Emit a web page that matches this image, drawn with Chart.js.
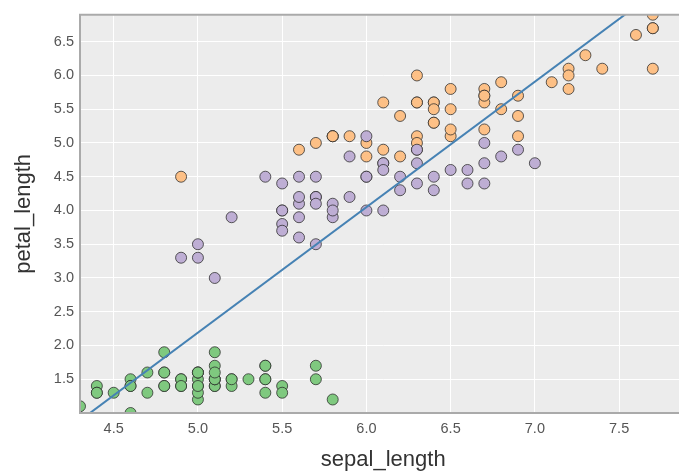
<!DOCTYPE html>
<html>
<head>
<meta charset="utf-8">
<script src="https://cdn.jsdelivr.net/npm/chart.js@4.4.0/dist/chart.umd.min.js"></script>
<style>
  html, body { margin: 0; padding: 0; background: #fff; overflow: hidden; }
  /* the plot runs past the right edge of the window, as in the original */
  #wrap { width: 693px; height: 472px; }
  #wrap canvas { display: block; }
</style>
</head>
<body>
<div id="wrap"><canvas id="ScatterChart"></canvas></div>
<script>
// iris: sepal_length vs petal_length, per species
const species = ['setosa', 'versicolor', 'virginica'];

const sepalSetosa = [5.1,4.9,4.7,4.6,5.0,5.4,4.6,5.0,4.4,4.9,5.4,4.8,4.8,4.3,5.8,5.7,5.4,5.1,5.7,5.1,
  5.4,5.1,4.6,5.1,4.8,5.0,5.0,5.2,5.2,4.7,4.8,5.4,5.2,5.5,4.9,5.0,5.5,4.9,4.4,5.1,
  5.0,4.5,4.4,5.0,5.1,4.8,5.1,4.6,5.3,5.0];
const petalSetosa = [1.4,1.4,1.3,1.5,1.4,1.7,1.4,1.5,1.4,1.5,1.5,1.6,1.4,1.1,1.2,1.5,1.3,1.4,1.7,1.5,
  1.7,1.5,1.0,1.7,1.9,1.6,1.6,1.5,1.4,1.6,1.6,1.5,1.5,1.4,1.5,1.2,1.3,1.4,1.3,1.5,
  1.3,1.3,1.3,1.6,1.9,1.4,1.6,1.4,1.5,1.4];

const sepalVersicolor = [7.0,6.4,6.9,5.5,6.5,5.7,6.3,4.9,6.6,5.2,5.0,5.9,6.0,6.1,5.6,6.7,5.6,5.8,6.2,5.6,
  5.9,6.1,6.3,6.1,6.4,6.6,6.8,6.7,6.0,5.7,5.5,5.5,5.8,6.0,5.4,6.0,6.7,6.3,5.6,5.5,
  5.5,6.1,5.8,5.0,5.6,5.7,5.7,6.2,5.1,5.7];
const petalVersicolor = [4.7,4.5,4.9,4.0,4.6,4.5,4.7,3.3,4.6,3.9,3.5,4.2,4.0,4.7,3.6,4.4,4.5,4.1,4.5,3.9,
  4.8,4.0,4.9,4.7,4.3,4.4,4.8,5.0,4.5,3.5,3.8,3.7,3.9,5.1,4.5,4.5,4.7,4.4,4.1,4.0,
  4.4,4.6,4.0,3.3,4.2,4.2,4.2,4.3,3.0,4.1];

const sepalVirginica = [6.3,5.8,7.1,6.3,6.5,7.6,4.9,7.3,6.7,7.2,6.5,6.4,6.8,5.7,5.8,6.4,6.5,7.7,7.7,6.0,
  6.9,5.6,7.7,6.3,6.7,7.2,6.2,6.1,6.4,7.2,7.4,7.9,6.4,6.3,6.1,7.7,6.3,6.4,6.0,6.9,
  6.7,6.9,5.8,6.8,6.7,6.7,6.3,6.5,6.2,5.9];
const petalVirginica = [6.0,5.1,5.9,5.6,5.8,6.6,4.5,6.3,5.8,6.1,5.1,5.3,5.5,5.0,5.1,5.3,5.5,6.7,6.9,5.0,
  5.7,4.9,6.7,4.9,5.7,6.0,4.8,4.9,5.6,5.8,6.1,6.4,5.6,5.1,5.6,6.1,5.6,5.5,4.8,5.4,
  5.6,5.1,5.1,5.9,5.7,5.2,5.0,5.2,5.4,5.1];

const xTicks = [4.5, 5.0, 5.5, 6.0, 6.5, 7.0, 7.5];
const yTicks = [1.5, 2.0, 2.5, 3.0, 3.5, 4.0, 4.5, 5.0, 5.5, 6.0, 6.5];

const colors = ['#7fc97f', '#beaed4', '#fdc086'];

function toPoints(xs, ys){
    return xs.map((x, i) => ({x: x, y: ys[i]}));
}

// least squares fit over all flowers
const allX = sepalSetosa.concat(sepalVersicolor, sepalVirginica);
const allY = petalSetosa.concat(petalVersicolor, petalVirginica);
function fitLine(xs, ys){
    let n = xs.length, mx = 0, my = 0;
    xs.forEach((v, i) => { mx += v; my += ys[i]; });
    mx /= n; my /= n;
    let sxy = 0, sxx = 0;
    xs.forEach((v, i) => { sxy += (v - mx) * (ys[i] - my); sxx += (v - mx) * (v - mx); });
    const b = sxy / sxx, a = my - b * mx;
    const lo = Math.min(...xs), hi = Math.max(...xs);
    return [{x: lo, y: a + b * lo}, {x: hi, y: a + b * hi}];
}

const groups = [
    toPoints(sepalSetosa, petalSetosa),
    toPoints(sepalVersicolor, petalVersicolor),
    toPoints(sepalVirginica, petalVirginica)
];

const datasets = groups.map((pts, i) => ({
    label: species[i],
    data: pts,
    backgroundColor: colors[i],
    borderColor: 'rgba(40,40,40,0.75)',
    borderWidth: 1,
    pointRadius: 5.5,
    pointHoverRadius: 5.5,
    order: 1
}));

datasets.push({
    label: 'fit',
    data: fitLine(allX, allY),
    showLine: true,
    borderColor: '#4682b4',
    borderWidth: 2,
    pointRadius: 0,
    order: 0
});

const panel = {
    id: 'panel',
    beforeDraw(chart){
        const a = chart.chartArea, c = chart.ctx;
        c.save();
        c.fillStyle = '#ececec';
        c.fillRect(a.left, a.top, a.right - a.left, a.bottom - a.top);
        c.restore();
    },
    afterDraw(chart){
        const a = chart.chartArea, c = chart.ctx;
        c.save();
        c.strokeStyle = '#aaaaaa';
        c.lineWidth = 2;
        c.beginPath();
        c.moveTo(a.right, a.top);
        c.lineTo(a.left, a.top);
        c.lineTo(a.left, a.bottom);
        c.lineTo(a.right, a.bottom);
        c.stroke();
        c.restore();
    }
};

const tickFont = {family: 'Arial, "Liberation Sans", sans-serif', size: 14.5};
const titleFont = {family: 'Arial, "Liberation Sans", sans-serif', size: 22};

new Chart(document.getElementById('ScatterChart'), {
    type: 'scatter',
    data: {datasets: datasets},
    plugins: [panel],
    options: {
        responsive: true,
        maintainAspectRatio: false,
        animation: false,
        layout: {padding: {top: 13, right: 0, left: 0, bottom: 0}},
        plugins: {legend: {display: false}, tooltip: {enabled: false}},
        scales: {
            x: {
                min: 4.3,
                max: 7.9,
                afterBuildTicks: s => { s.ticks = xTicks.map(v => ({value: v})); },
                afterFit: s => { s.height = 59; },
                grid: {color: '#ffffff', lineWidth: 1, drawTicks: false},
                border: {display: false},
                ticks: {color: '#555', font: tickFont, padding: 7, maxRotation: 0,
                        callback: v => v.toFixed(1)},
                title: {display: true, text: 'sepal_length', color: '#333', font: titleFont,
                        padding: {top: 0, bottom: -1}}
            },
            y: {
                min: 1.0,
                max: 6.9,
                afterBuildTicks: s => { s.ticks = yTicks.map(v => ({value: v})); },
                afterFit: s => { s.width = 80; },
                grid: {color: '#ffffff', lineWidth: 1, drawTicks: false},
                border: {display: false},
                ticks: {color: '#555', font: tickFont, padding: 6,
                        callback: v => v.toFixed(1)},
                title: {display: true, text: 'petal_length', color: '#333', font: titleFont,
                        padding: {top: 11, bottom: 0}}
            }
        }
    }
});
</script>
</body>
</html>
